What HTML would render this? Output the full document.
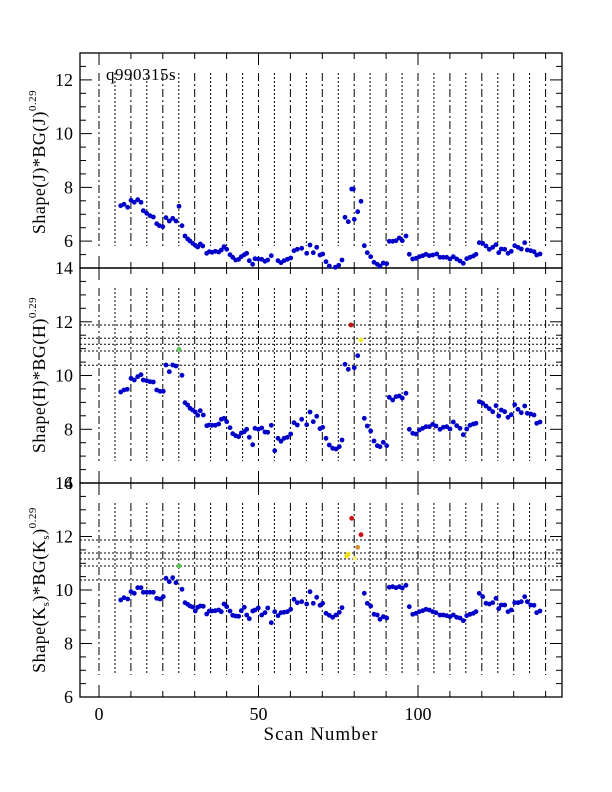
<!DOCTYPE html>
<html><head><meta charset="utf-8">
<style>
html,body{margin:0;padding:0;background:#fff;}
svg{display:block;}
text{font-family:"Liberation Serif",serif;fill:#000;}
</style></head>
<body>
<svg id="s" width="612" height="792" viewBox="0 0 612 792" xmlns="http://www.w3.org/2000/svg"></svg>
<script>
var s=document.getElementById('s');var h='';
var X0=80,X1=562;
function xp(v){return 99+3.19*v;}
var panels=[{t:53,b:268,top:13},{t:268,b:483,top:14},{t:483,b:697,top:14}];
function yp(p,v){return p.t+(p.top-v)*(p.b-p.t)/8;}
function line(x1,y1,x2,y2,extra){h+='<line x1="'+x1+'" y1="'+y1+'" x2="'+x2+'" y2="'+y2+'" stroke="#000" stroke-width="1" '+(extra||'')+'/>';}
panels.forEach(function(p){
 for(var k=0;k<=140;k+=5){
  var x=xp(k).toFixed(1);
  var da=(k%10==0)?'stroke-dasharray="8,3,2,3"':'stroke-dasharray="2,2"';
  line(x,p.t+20,x,p.b-22,da);
 }
});
[325,338.3,344.3,351,365.3].forEach(function(y){line(X0,y,X1,y,'stroke-dasharray="2,2"');});
[540,553,559,566,580].forEach(function(y){line(X0,y,X1,y,'stroke-dasharray="2,2"');});
panels.forEach(function(p){
 h+='<rect x="'+X0+'" y="'+p.t+'" width="'+(X1-X0)+'" height="'+(p.b-p.t)+'" fill="none" stroke="#000" stroke-width="1.3"/>';
 for(var v=p.top-8;v<=p.top+0.01;v+=0.5){
  var y=yp(p,v).toFixed(1);var L=(v%2==0)?12:6;
  line(X0,y,X0+L,y);line(X1-L,y,X1,y);
 }
 for(var k=0;k<=140;k+=10){
  var x=xp(k).toFixed(1);var L=(k%50==0)?12:6;
  line(x,p.t,x,p.t+L);line(x,p.b-L,x,p.b);
 }
});
function lab(x,y,t,sz,anc,ls){h+='<text x="'+x+'" y="'+y+'" font-size="'+(sz||16)+'" text-anchor="'+(anc||'end')+'"'+(ls?' letter-spacing="'+ls+'"':'')+'>'+t+'</text>';}
[6,8,10,12].forEach(function(v){lab(73,yp(panels[0],v)+6,v,18);});
[6,8,10,12,14].forEach(function(v){lab(73,yp(panels[1],v)+6,v,18);});
[6,8,10,12,14].forEach(function(v){lab(73,yp(panels[2],v)+6,v,18);});
lab(99,720,'0',18,'middle');lab(258.5,720,'50',18,'middle');lab(418,720,'100',18,'middle');
lab(321,740,'Scan Number',19,'middle',1);
lab(106,80,'q990315s',17,'start',0.5);
function ytitle(cy,main){
 h+='<text transform="translate(45,'+cy+') rotate(-90)" font-size="18" text-anchor="middle" letter-spacing="0.5">'+main+'<tspan dy="-9" font-size="11">0.29</tspan></text>';
}
ytitle(162,'Shape(J)*BG(J)');
ytitle(375,'Shape(H)*BG(H)');
h+='<text transform="translate(45,590) rotate(-90)" font-size="18" text-anchor="middle" letter-spacing="0.5">Shape(K<tspan dy="4" font-size="11">s</tspan><tspan dy="-4">)*BG(K</tspan><tspan dy="4" font-size="11">s</tspan><tspan dy="-4">)</tspan><tspan dy="-9" font-size="11">0.29</tspan></text>';
function pts(a,dx,dy,col){for(var i=0;i<a.length;i+=2){h+='<circle cx="'+(a[i]/3+dx).toFixed(1)+'" cy="'+(a[i+1]/3+dy).toFixed(1)+'" r="2.4" fill="'+(col||'#0000c8')+'"/>';}}
function dot(x,y,c){h+='<circle cx="'+x+'" cy="'+y+'" r="2.4" fill="'+c+'"/>';}
var TL=[362,497,372,493,383,502,393,481,403,487,413,479,423,487,430,512,440,520,450,527,460,531,470,551,478,557,488,560,498,533,508,543,518,535,528,543,537,499,546,557,555,588,563,597,570,603,578,610,586,616,593,621,601,612,608,618,620,640,628,635,636,637,646,634,656,636,664,630,672,620,680,628,690,644,698,652,707,660,716,658,724,650,733,644,740,640,748,662,758,673,765,656,775,657,785,658,795,664,803,660,814,647,834,662,843,668,852,662,862,658,872,654,882,632,892,628];
var TR=[5,625,20,640,30,615,40,638,50,622,60,645,68,642,78,665,88,678,106,682,116,676,126,660,135,532,145,545,155,447,160,447,163,538,173,515,183,484,193,617,202,638,212,650,222,667,232,673,240,678,250,669,260,671,268,604,278,604,288,602,298,594,307,602,318,588,328,643,338,657,348,655,358,650,368,647,378,643,388,647,398,645,410,642,420,652,430,652,440,652,450,657,460,650,470,657,480,663,490,670,500,656,510,652,520,648,528,643,538,608,548,610,558,618,568,628,578,622,588,614,596,638,604,627,614,628,624,640,634,634,644,617,654,622,664,627,674,608,682,630,692,632,702,635,710,645,720,642];
var ML=[362,396,372,390,382,388,393,355,403,360,413,350,423,344,430,360,440,362,450,365,460,366,470,390,480,394,490,394,498,315,508,335,518,315,528,318,546,346,555,428,563,435,570,445,578,450,586,456,593,466,601,452,610,465,620,497,628,495,636,496,646,496,656,492,664,478,672,475,680,485,690,503,698,521,707,527,716,530,724,519,733,515,740,508,748,532,758,554,765,505,775,508,785,504,795,516,803,517,814,496,824,572,834,535,843,544,852,535,862,532,872,522,882,488,892,495];
var MR=[5,478,20,494,30,456,40,485,50,469,60,506,68,502,78,535,88,555,98,565,108,567,118,560,126,540,135,313,145,328,163,323,173,287,193,475,202,498,212,513,222,543,232,557,240,560,250,547,260,557,268,412,278,420,288,410,298,408,307,414,318,400,328,508,338,520,348,522,358,510,368,505,378,500,388,500,398,493,408,498,420,508,430,502,440,500,450,507,460,486,470,497,480,505,490,524,500,507,510,496,520,492,528,490,538,425,548,430,558,438,568,446,578,455,588,437,596,468,604,450,614,455,624,472,634,464,644,434,654,448,664,458,674,438,682,460,692,462,702,465,710,490,720,486];
var BL=[362,360,372,353,383,357,393,335,403,340,413,323,423,323,430,337,440,337,450,337,460,337,470,355,480,357,490,350,498,295,508,305,518,293,528,308,546,328,555,368,563,373,570,378,578,381,586,393,593,382,601,378,610,379,620,402,628,393,636,393,646,392,656,390,664,395,672,372,680,380,690,393,698,406,707,408,716,409,724,392,733,382,740,405,748,416,758,393,765,390,775,384,785,405,795,398,803,384,814,428,824,395,834,407,843,398,852,397,862,395,872,388,882,358,892,368];
var BR=[5,365,20,372,30,335,40,370,50,352,60,376,68,370,78,400,88,406,98,412,108,405,118,397,126,383,193,340,202,370,212,378,222,403,232,405,240,418,250,410,260,414,268,322,278,320,288,323,298,320,307,324,318,316,328,380,338,403,348,400,358,395,368,392,378,388,388,390,398,395,408,398,420,405,430,405,440,407,450,410,460,405,470,412,480,414,490,422,500,407,510,403,520,400,528,395,538,340,548,350,558,370,568,372,578,368,588,355,596,386,604,375,614,375,624,395,634,390,644,368,654,368,664,365,674,350,682,365,692,375,702,376,710,398,720,393];
pts(TL,0,40);pts(TR,300,40);pts(ML,0,260);pts(MR,300,260);pts(BL,0,480);pts(BR,300,480);
dot(179,349.3,'#5cc85c');dot(351,325,'#c01010');dot(361,340,'#f0f030');
dot(179,566,'#5cc85c');dot(346.7,556,'#f0e020');dot(348.3,554,'#f0e020');dot(351.7,518.3,'#d01010');dot(355,558.3,'#f8f080');dot(357.7,547.3,'#d09030');dot(361,534.7,'#d01010');
s.innerHTML=h;
</script>
</body></html>
